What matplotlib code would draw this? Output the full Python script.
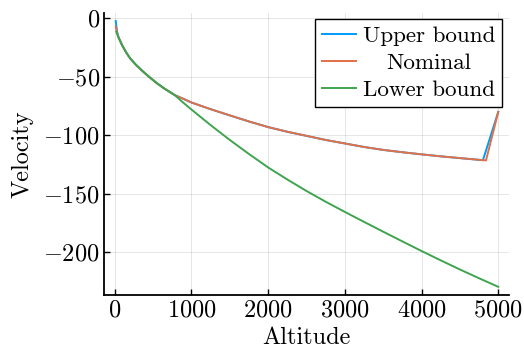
import matplotlib
matplotlib.use("Agg")
import matplotlib.pyplot as plt

plt.rcParams["font.family"] = "serif"
plt.rcParams["font.serif"] = ["cmr10"]
plt.rcParams["mathtext.fontset"] = "cm"
plt.rcParams["axes.formatter.use_mathtext"] = True
plt.rcParams["axes.unicode_minus"] = True

# Velocity profiles vs altitude
alt_upper = [13, 30, 50, 75, 100, 150, 200, 275, 350, 450, 550, 650, 783, 900,
             1000, 1250, 1500, 1750, 2000, 2250, 2500, 2750, 3000, 3250, 3500,
             3750, 4000, 4250, 4500, 4800, 5000]
vel_upper = [-2.3, -11.5, -16.5, -20.0, -23.5, -29.3, -34.2, -39.7, -44.4,
             -50.2, -55.5, -60.2, -65.7, -69.0, -72.0, -77.7, -83.0, -88.2,
             -93.0, -97.0, -100.5, -104.0, -107.0, -110.0, -112.5, -114.5,
             -116.3, -118.0, -119.5, -121.3, -80.0]

alt_nominal = [13, 30, 50, 75, 100, 150, 200, 275, 350, 450, 550, 650, 783, 900,
               1000, 1250, 1500, 1750, 2000, 2250, 2500, 2750, 3000, 3250, 3500,
               3750, 4000, 4250, 4500, 4840, 5000]
vel_nominal = [-7.0, -12.5, -16.5, -20.0, -23.5, -29.3, -34.2, -39.7, -44.4,
               -50.2, -55.5, -60.2, -65.7, -69.0, -72.0, -77.7, -83.0, -88.2,
               -93.0, -97.0, -100.5, -104.0, -107.0, -110.0, -112.5, -114.5,
               -116.3, -118.0, -119.5, -121.5, -80.0]

alt_lower = [20, 35, 50, 75, 100, 150, 200, 275, 350, 450, 550, 650, 783, 900,
             1000, 1250, 1500, 1750, 2000, 2250, 2500, 2750, 3000, 3250, 3500,
             3750, 4000, 4250, 4500, 4750, 5000]
vel_lower = [-11.5, -14.0, -16.5, -20.0, -23.5, -29.3, -34.2, -39.7, -44.4,
             -50.2, -55.5, -60.2, -65.7, -72.5, -78.0, -91.3, -104.0, -116.0,
             -127.5, -137.8, -147.6, -156.8, -165.5, -174.0, -182.4, -190.7,
             -198.9, -206.9, -214.7, -222.2, -229.5]

labels = ["Upper bound", "Nominal", "Lower bound"]
colors = ["#009AFA", "#E36F47", "#3EA44E"]

FS = 17.5
FS_LEG = 16.6

fig = plt.figure(figsize=(5.24, 3.5), dpi=100)
ax = fig.add_axes([104 / 524, 1 - 295 / 350, (509 - 104) / 524, (295 - 13) / 350])

for (x, y), lab, c in zip([(alt_upper, vel_upper), (alt_nominal, vel_nominal),
                           (alt_lower, vel_lower)], labels, colors):
    ax.plot(x, y, color=c, lw=1.4, label=lab)

ax.set_xlim(-140, 5140)
ax.set_ylim(-236.5, 4.5)
ax.set_xticks([0, 1000, 2000, 3000, 4000, 5000])
ax.set_yticks([0, -50, -100, -150, -200])
ax.grid(True, color="black", alpha=0.1, lw=0.7)
ax.set_axisbelow(True)
for s in ["top", "right"]:
    ax.spines[s].set_visible(False)
for s in ["left", "bottom"]:
    ax.spines[s].set_linewidth(1.3)
ax.tick_params(direction="in", length=4, width=1.0, labelsize=FS, pad=3)
ax.set_xlabel("Altitude", fontsize=FS, labelpad=4)
ax.set_ylabel("Velocity", fontsize=FS, labelpad=7)

leg = ax.legend(loc="upper right", bbox_to_anchor=(1.0 - 7 / 405, 1.0 - 6 / 282),
                fontsize=FS_LEG, frameon=True, fancybox=False, framealpha=1,
                edgecolor="black", handlelength=1.45, handletextpad=0.3,
                borderpad=0.3, labelspacing=0.3, borderaxespad=0)
leg.get_frame().set_linewidth(1.0)

# centre the entry labels within the legend column
fig.canvas.draw()
renderer = fig.canvas.get_renderer()
texts = leg.get_texts()
widths = [t.get_window_extent(renderer).width for t in texts]
wmax = max(widths)
for t, w in zip(texts, widths):
    t.set_position(((wmax - w) / 2, 0))

fig.savefig("out.png", dpi=100)
